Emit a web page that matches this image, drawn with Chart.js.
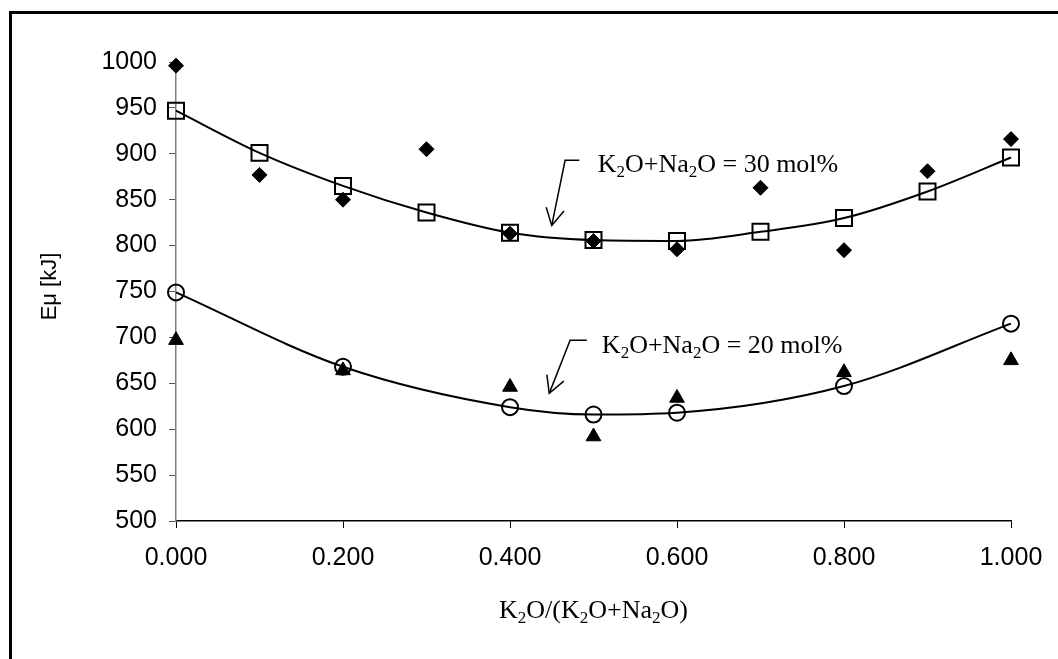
<!DOCTYPE html>
<html>
<head>
<meta charset="utf-8">
<script src="https://cdn.jsdelivr.net/npm/chart.js@4/dist/chart.umd.min.js"></script>
<style>
  html, body { margin: 0; padding: 0; background: #fff; }
  #wrap { width: 1058px; height: 659px; }
</style>
</head>
<body>
<div id="wrap"><canvas id="eu_chart" width="1058" height="659"></canvas></div>
<script>
// K2O/(K2O+Na2O) ratio
const ratio30 = [0, 0.1, 0.2, 0.3, 0.4, 0.5, 0.6, 0.7, 0.8, 0.9, 1.0];
const measured30 = [996, 877, 850, 905, 813, 805, 796, 863, 795, 881, 916];   // diamonds
const fitted30 = [947, 901, 865, 836, 814, 806, 805, 815, 830, 859, 896];     // squares + curve

const ratio20 = [0, 0.2, 0.4, 0.5, 0.6, 0.8, 1.0];
const fitted20 = [749, 668, 624, 616, 618, 647, 715];     // circles + curve
const measured20 = [697, 664, 646, 592, 634, 662, 675];   // triangles

const yMin = 500, yMax = 1000, yStep = 50;
const xMin = 0, xMax = 1, xStep = 0.2;

// leader labels: text pos, tail end, corner, arrow tip (data units)
const notes = [
    { parts: ['K', '2', 'O+Na', '2', 'O = 30 mol%'], text: [0.505, 880], tail: [0.483, 893], corner: [0.466, 893], tip: [0.450, 822] },
    { parts: ['K', '2', 'O+Na', '2', 'O = 20 mol%'], text: [0.510, 683], tail: [0.492, 697], corner: [0.472, 697], tip: [0.447, 639] }
];
const xTitleParts = ['K', '2', 'O/(K', '2', 'O+Na', '2', 'O)'];
const yTitle = 'E\u03bc [kJ]';

function pts(xs, ys) {
    return xs.map((x, i) => ({ x: x, y: ys[i] }));
}

// draws text where odd pieces are subscripts
function subText(ctx, parts, x, y, size, align) {
    const big = size + 'px "Liberation Serif", "Times New Roman", serif';
    const small = Math.round(size * 0.66) + 'px "Liberation Serif", "Times New Roman", serif';
    let total = 0;
    parts.forEach((p, i) => {
        ctx.font = i % 2 ? small : big;
        total += ctx.measureText(p).width;
    });
    let cx = align === 'center' ? x - total / 2 : x;
    ctx.textAlign = 'left';
    ctx.textBaseline = 'alphabetic';
    parts.forEach((p, i) => {
        ctx.font = i % 2 ? small : big;
        ctx.fillText(p, cx, i % 2 ? y + size * 0.2 : y);
        cx += ctx.measureText(p).width;
    });
}

const extras = {
    id: 'extras',
    afterDraw(chart) {
        const ctx = chart.ctx;
        const xs = chart.scales.x, ys = chart.scales.y;
        const area = chart.chartArea;
        ctx.save();
        // outer frame
        ctx.strokeStyle = '#000';
        ctx.lineWidth = 3;
        ctx.beginPath();
        ctx.moveTo(10.5, 700);
        ctx.lineTo(10.5, 12.5);
        ctx.lineTo(1100, 12.5);
        ctx.stroke();

        ctx.fillStyle = '#000';
        // x title
        subText(ctx, xTitleParts, (area.left + area.right) / 2, area.bottom + 97, 26, 'center');
        // y title
        ctx.save();
        ctx.translate(50, (area.top + area.bottom) / 2 - 5);
        ctx.rotate(-Math.PI / 2);
        ctx.font = '22px "Liberation Sans", Arial, sans-serif';
        ctx.textAlign = 'center';
        ctx.textBaseline = 'middle';
        ctx.fillText(yTitle, 0, 0);
        ctx.restore();

        // annotations with arrows
        ctx.lineWidth = 1.5;
        notes.forEach(n => {
            const P = p => [xs.getPixelForValue(p[0]), ys.getPixelForValue(p[1])];
            const a = P(n.tail), b = P(n.corner), c = P(n.tip);
            ctx.beginPath();
            ctx.moveTo(a[0], a[1]);
            ctx.lineTo(b[0], b[1]);
            ctx.lineTo(c[0], c[1]);
            ctx.stroke();
            const ang = Math.atan2(b[1] - c[1], b[0] - c[0]);
            const len = 19, spread = 0.5;
            ctx.beginPath();
            ctx.moveTo(c[0] + len * Math.cos(ang - spread), c[1] + len * Math.sin(ang - spread));
            ctx.lineTo(c[0], c[1]);
            ctx.lineTo(c[0] + len * Math.cos(ang + spread), c[1] + len * Math.sin(ang + spread));
            ctx.stroke();
            const t = P(n.text);
            subText(ctx, n.parts, t[0], t[1], 26, 'left');
        });
        ctx.restore();
    }
};

const tickFont = { family: '"Liberation Sans", Arial, sans-serif', size: 25 };

new Chart(document.getElementById('eu_chart'), {
    type: 'scatter',
    data: {
        datasets: [
            {
                label: 'measured 30',
                data: pts(ratio30, measured30),
                pointStyle: 'rectRot',
                pointRadius: 7.5,
                pointBackgroundColor: '#000',
                pointBorderColor: '#000',
                pointBorderWidth: 1,
                clip: false
            },
            {
                label: 'fit 30',
                data: pts(ratio30, fitted30),
                showLine: true,
                cubicInterpolationMode: 'monotone',
                borderColor: '#000',
                borderWidth: 2,
                pointStyle: 'rect',
                pointRadius: 11.3,
                pointBackgroundColor: 'rgba(0,0,0,0)',
                pointBorderColor: '#000',
                pointBorderWidth: 2,
                clip: false
            },
            {
                label: 'fit 20',
                data: pts(ratio20, fitted20),
                showLine: true,
                cubicInterpolationMode: 'monotone',
                borderColor: '#000',
                borderWidth: 2,
                pointStyle: 'circle',
                pointRadius: 8,
                pointBackgroundColor: 'rgba(0,0,0,0)',
                pointBorderColor: '#000',
                pointBorderWidth: 2,
                clip: false
            },
            {
                label: 'measured 20',
                data: pts(ratio20, measured20),
                pointStyle: 'triangle',
                pointRadius: 8.5,
                pointBackgroundColor: '#000',
                pointBorderColor: '#000',
                pointBorderWidth: 1,
                clip: false
            }
        ]
    },
    options: {
        responsive: false,
        animation: false,
        layout: { padding: { left: 0, top: 62, right: 47, bottom: 0 } },
        plugins: {
            legend: { display: false },
            tooltip: { enabled: false }
        },
        scales: {
            x: {
                type: 'linear',
                min: xMin,
                max: xMax,
                afterFit: s => { s.height = 138; },
                border: { color: '#000', width: 1.5 },
                grid: { drawOnChartArea: false, drawTicks: true, tickLength: 7, color: '#000', lineWidth: 1 },
                ticks: {
                    stepSize: xStep,
                    padding: 15,
                    color: '#000',
                    font: tickFont,
                    callback: v => Number(v).toFixed(3)
                }
            },
            y: {
                min: yMin,
                max: yMax,
                afterFit: s => { s.width = 176; },
                border: { color: '#808080', width: 1.5 },
                grid: { drawOnChartArea: false, drawTicks: true, tickLength: 7, color: '#555', lineWidth: 1 },
                ticks: {
                    stepSize: yStep,
                    padding: 12,
                    color: '#000',
                    font: tickFont,
                    callback: v => String(v)
                }
            }
        }
    },
    plugins: [extras]
});
</script>
</body>
</html>
